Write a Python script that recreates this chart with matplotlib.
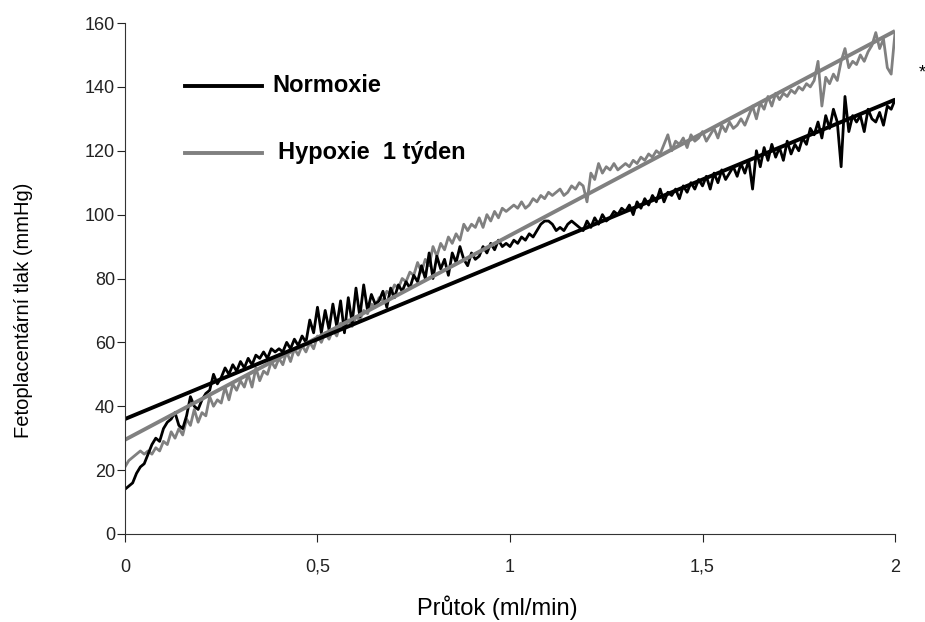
import numpy as np
import matplotlib.pyplot as plt
import matplotlib

matplotlib.rcParams['font.family'] = ['Liberation Sans', 'DejaVu Sans']

# průtok (ml/min), krok 0.01
flow = np.round(np.arange(0, 2.001, 0.01), 2)

normoxie = [
    14, 15, 16, 19, 21, 22, 25, 28, 30, 29,
    33, 35, 36, 38, 34, 33, 37, 43, 40, 39,
    42, 44, 45, 50, 47, 49, 52, 50, 53, 51,
    54, 52, 55, 53, 56, 55, 57, 55, 58, 57,
    58, 57, 60, 58, 61, 59, 62, 60, 67, 63,
    71, 63, 70, 64, 72, 65, 73, 63, 74, 66,
    77, 68, 78, 70, 75, 72, 73, 76, 71, 77,
    74, 78, 76, 79, 77, 81, 79, 84, 80, 88,
    80, 87, 83, 86, 81, 88, 85, 90, 86, 84,
    88, 86, 87, 90, 88, 91, 89, 92, 90, 91,
    90, 92, 91, 93, 92, 94, 93, 95, 97, 98,
    98, 97, 95, 96, 95, 97, 98, 97, 96, 95,
    98, 96, 99, 97, 100, 98, 99, 101, 100, 102,
    101, 103, 100, 104, 102, 105, 103, 106, 104, 108,
    104, 107, 106, 108, 105, 109, 107, 110, 108, 111,
    109, 112, 108, 113, 110, 114, 111, 113, 115, 112,
    116, 113, 117, 108, 120, 115, 121, 117, 122, 118,
    121, 117, 123, 119, 122, 120, 124, 122, 127, 125,
    129, 124, 131, 127, 133, 129, 115, 137, 126, 131,
    129, 131, 126, 133, 130, 129, 132, 128, 134, 133, 136,
]

hypoxie = [
    21, 23, 24, 25, 26, 25, 26, 25, 27, 26,
    29, 28, 32, 30, 33, 31, 36, 34, 39, 35,
    38, 37, 43, 40, 42, 41, 46, 42, 47, 45,
    48, 46, 50, 46, 52, 48, 51, 50, 54, 52,
    55, 53, 57, 54, 58, 56, 59, 57, 60, 58,
    62, 60, 63, 61, 64, 62, 66, 64, 67, 65,
    68, 67, 70, 69, 72, 71, 74, 73, 76, 75,
    78, 77, 80, 79, 82, 81, 85, 82, 86, 84,
    90, 87, 91, 89, 93, 91, 94, 92, 97, 95,
    97, 96, 99, 96, 100, 98, 101, 99, 102, 101,
    102, 103, 102, 104, 102, 103, 105, 104, 106, 105,
    107, 106, 107, 108, 106, 107, 109, 108, 110, 109,
    104, 113, 111, 116, 113, 115, 114, 116, 114, 115,
    116, 115, 117, 116, 118, 117, 119, 118, 120, 119,
    122, 125, 120, 123, 122, 124, 121, 125, 123, 124,
    126, 123, 125, 127, 124, 128, 126, 129, 127, 128,
    130, 128, 131, 134, 130, 135, 133, 137, 134, 138,
    136, 138, 137, 139, 138, 140, 139, 141, 140, 142,
    148, 134, 143, 141, 144, 142, 148, 152, 146, 148,
    147, 150, 148, 151, 153, 157, 152, 155, 146, 144, 157,
]

# lineární proložení (začátek, konec)
fit_x = [0, 2]
fit_normoxie = [36, 136]
fit_hypoxie = [29.5, 157.5]

x_ticks = [0, 0.5, 1, 1.5, 2]
x_ticklabels = ["0", "0,5", "1", "1,5", "2"]
y_ticks = list(range(0, 161, 20))

black = "#000000"
gray = "#808080"

fig = plt.figure(figsize=(9.25, 6.22), dpi=100)
ax = fig.add_axes([0.1351, 0.1415, 0.8325, 0.8215])

ax.plot(flow, hypoxie, color=gray, lw=2.0)
ax.plot(flow, normoxie, color=black, lw=2.0)
ax.plot(fit_x, fit_hypoxie, color=gray, lw=2.8, solid_capstyle="butt")
ax.plot(fit_x, fit_normoxie, color=black, lw=2.8, solid_capstyle="butt")

ax.set_xlim(0, 2)
ax.set_ylim(0, 160)
ax.set_xticks(x_ticks)
ax.set_xticklabels(x_ticklabels)
ax.set_yticks(y_ticks)
ax.tick_params(direction="out", length=6, width=0.8, labelsize=13, colors="#222222")
ax.tick_params(axis="y", pad=1)
ax.tick_params(axis="x", pad=12)
for side in ["top", "right"]:
    ax.spines[side].set_visible(False)
for side in ["left", "bottom"]:
    ax.spines[side].set_linewidth(0.8)
    ax.spines[side].set_color("#333333")

ax.set_xlabel("Průtok (ml/min)", fontsize=17, labelpad=14)
ax.xaxis.set_label_coords(0.484, -0.12)
ax.set_ylabel("Fetoplacentární tlak (mmHg)", fontsize=14.5)
ax.yaxis.set_label_coords(-0.12, 0.438)

# legenda ručně
leg_font = {"weight": "bold", "size": 17}
ax.plot([0.078, 0.178], [0.877, 0.877], color=black, lw=2.8, transform=ax.transAxes)
ax.text(0.191, 0.877, "Normoxie", va="center", transform=ax.transAxes, **leg_font)
ax.plot([0.078, 0.178], [0.746, 0.746], color=gray, lw=2.8, transform=ax.transAxes)
ax.text(0.199, 0.746, "Hypoxie  1 týden", va="center", transform=ax.transAxes, **leg_font)

fig.text(0.997, 0.875, "*", fontsize=13, ha="center")

plt.savefig("out.png", dpi=100)
plt.close()
